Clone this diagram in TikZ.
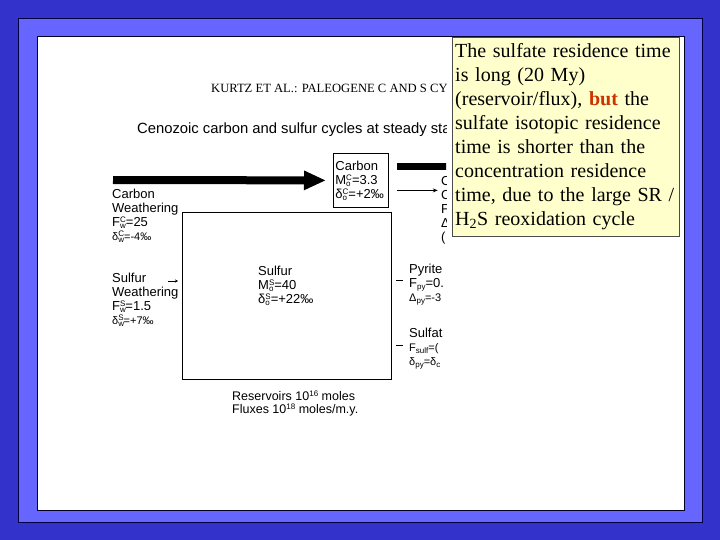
\documentclass[tikz,border=0pt]{standalone}
\usepackage{fontspec}
\setmainfont{Liberation Serif}
\setsansfont{Liberation Sans}
\usetikzlibrary{arrows.meta}
\definecolor{slidebg}{HTML}{3333CC}
\definecolor{slideframe}{HTML}{6666FF}
\definecolor{notefill}{HTML}{FFFFCC}
\definecolor{butred}{HTML}{CC3300}
\newcommand{\scr}[1]{{\fontsize{8}{8}\selectfont #1}}
\newcommand{\flux}[3]{#1\rlap{\raisebox{-2pt}{\scr{#2}}}\raisebox{4pt}{\scr{#3}}}
\newcommand{\smalline}{\fontsize{11}{14}\selectfont}
\begin{document}
\begin{tikzpicture}[x=1pt,y=-1pt,
    lbl/.style={anchor=west,inner sep=0pt,align=left,font=\sffamily\fontsize{13}{14}\selectfont},
    bigarrow/.style={line width=8pt,-{Triangle[length=22pt,width=18pt]}},
    thinarrow/.style={line width=0.8pt,-{Stealth[length=5pt,width=4pt]}},
    tinyarrow/.style={line width=0.6pt,-{Stealth[length=3pt,width=3pt]}}]
  \fill[slidebg] (0,0) rectangle (720,540);
  \draw[fill=slideframe,draw=black!75!blue] (18,18) rectangle (702,522);
  \draw[fill=white,draw=black!85!blue] (37,36) rectangle (684,510);
  \begin{scope}
    \clip (100,60) rectangle (446,440);
    \draw
      (211,88) node[anchor=west,inner sep=0pt,font=\fontsize{12.6}{14}\selectfont] (title){KURTZ ET AL.: PALEOGENE C AND S CY}
      (137,130) node[lbl,font=\sffamily\fontsize{14.8}{17}\selectfont] (heading){Cenozoic carbon and sulfur cycles at steady sta}
      (112,216) node[lbl] (cweath){Carbon\\Weathering\\\flux{F}{w}{C}=25\\{\smalline\flux{δ}{w}{C}=-4‰}}
      (112,300) node[lbl] (sweath){Sulfur\\Weathering\\\flux{F}{w}{S}=1.5\\{\smalline\flux{δ}{w}{S}=+7‰}}
      (258,286) node[lbl] (sres){Sulfur\\\flux{M}{o}{S}=40\\\flux{δ}{o}{S}=+22‰}
      (409,285) node[lbl] (pyrite){Pyrite\\F\raisebox{-2pt}{\scr{py}}=0.\\{\smalline Δ\raisebox{-2pt}{\scr{py}}=-3}}
      (409,349) node[lbl] (sulfat){Sulfat\\{\smalline F\raisebox{-2pt}{\scr{sulf}}=(}\\{\smalline δ\raisebox{-2pt}{\scr{py}}=δ\raisebox{-2pt}{\scr{c}}}}
      (441,210) node[lbl] (corg){C\\C\\F\\Δ\\(}
      (232,403.5) node[lbl,font=\sffamily\fontsize{12.5}{13}\selectfont] (units){Reservoirs 10\raisebox{4pt}{\scr{16}} moles\\Fluxes 10\raisebox{4pt}{\scr{18}} moles/m.y.};
    \node[draw,line width=0.8pt,anchor=north west,minimum width=55pt,minimum height=54pt,
      text width=51pt,inner sep=2pt,align=left,font=\sffamily\fontsize{13}{14}\selectfont]
      (cbox) at (333,153) {Carbon\\\flux{M}{o}{C}=3.3\\\flux{δ}{o}{C}=+2‰};
    \node[draw,line width=0.8pt,minimum width=209pt,minimum height=167pt,inner sep=0pt]
      (sbox) at (286.5,295.5) {};
    \coordinate (cin) at (113,180);
    \coordinate (sin) at (168,281);
    \coordinate (sinend) at (178,281);
    \coordinate (pyout) at (396,280);
    \coordinate (pyend) at (403,280);
    \coordinate (suout) at (396,345);
    \coordinate (suend) at (403,345);
    \draw[bigarrow] (cin) -- ([xshift=-7pt]cbox.west);
    \draw[line width=7pt] ([xshift=8pt,yshift=14pt]cbox.east) -- ++(60,0);
    \draw[thinarrow] ([xshift=8pt,yshift=-10pt]cbox.east) -- ++(41,0);
    \draw[tinyarrow] (sin) -- (sinend);
    \draw[line width=0.6pt] (pyout) -- (pyend);
    \draw[line width=0.6pt] (suout) -- (suend);
  \end{scope}
  \node[draw=black!70,fill=notefill,anchor=north west,minimum width=227pt,minimum height=199pt,
    text width=221pt,inner xsep=3pt,align=left,font=\fontsize{20}{24}\selectfont]
    (note) at (452,37) {The sulfate residence time\\is long (20 My)\\(reservoir/flux), {\bfseries\color{butred}but} the\\sulfate isotopic residence\\time is shorter than the\\concentration residence\\time, due to the large SR /\\H\textsubscript{2}S reoxidation cycle};
\end{tikzpicture}
\end{document}
